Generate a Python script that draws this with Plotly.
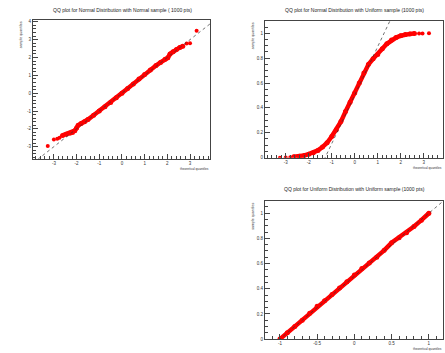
import plotly.graph_objects as go

W, H = 445, 353

# ---------------- data ----------------
# Panel 1: Normal distribution vs normal sample
nn_core_x = [-2.62, -2.45, -2.3, -2.18, -2.08, -2.0, -1.93, -1.8, -1.65, -1.5, -1.25, -1.0, -0.75, -0.5, -0.25, 0.0,
             0.25, 0.5, 0.75, 1.0, 1.25, 1.5, 1.7, 1.9, 2.02, 2.12, 2.25, 2.4, 2.55, 2.68]
nn_core_y = [-2.37, -2.3, -2.25, -2.2, -2.1, -1.95, -1.8, -1.7, -1.6, -1.48, -1.24, -1.0, -0.76, -0.52, -0.26, 0.0,
             0.26, 0.52, 0.79, 1.05, 1.3, 1.55, 1.72, 1.9, 1.98, 2.2, 2.32, 2.45, 2.56, 2.63]
nn_tail_x = [-3.27, -3.0, -2.85, -2.75, 2.85, 3.0, 3.29]
nn_tail_y = [-2.96, -2.6, -2.55, -2.5, 2.78, 2.8, 3.5]

# Panel 2: Normal distribution vs uniform sample
nu_core_x = [-2.65, -2.4, -2.2, -2.0, -1.8, -1.6, -1.4, -1.2, -1.0, -0.8, -0.6, -0.4, -0.2, 0.0,
             0.2, 0.4, 0.6, 0.8, 1.0, 1.2, 1.4, 1.6, 1.8, 2.0, 2.2, 2.4, 2.6]
nu_core_y = [0.008, 0.012, 0.018, 0.028, 0.04, 0.058, 0.085, 0.12, 0.17, 0.225, 0.29, 0.37, 0.445, 0.52,
             0.6, 0.68, 0.75, 0.795, 0.83, 0.875, 0.915, 0.945, 0.965, 0.98, 0.99, 0.995, 0.998]
nu_tail_x = [-3.25, -3.0, -2.8, 2.8, 2.95, 3.23]
nu_tail_y = [0.0, 0.001, 0.003, 0.999, 0.999, 1.0]

# Panel 3: Uniform distribution vs uniform sample
uu_x = [-1.0, -0.9, -0.8, -0.7, -0.6, -0.5, -0.4, -0.3, -0.2, -0.1, 0.0, 0.1, 0.2, 0.3, 0.4, 0.5,
        0.6, 0.7, 0.8, 0.9, 1.0]
uu_y = [0.0, 0.05, 0.1, 0.15, 0.205, 0.26, 0.305, 0.355, 0.405, 0.455, 0.51, 0.56, 0.605, 0.65, 0.705, 0.765,
        0.805, 0.845, 0.895, 0.945, 1.0]

# reference lines (slope, intercept)
ref_lines = {"x": (1.0, 0.0), "x2": (0.39, 0.502), "x3": (0.5, 0.5)}

titles = ["QQ plot for Normal Distribution with Normal sample ( 1000 pts)",
          "QQ plot for Normal Distribution with Uniform sample (1000 pts)",
          "QQ plot for Uniform Distribution with Uniform sample (1000 pts)"]
xtitle = "theoretical quantiles"
ytitle = "sample quantiles"

# ---------------- layout geometry (pixels) ----------------
frames = {  # left, right, top, bottom in px
    "1": (33, 210, 20, 160),
    "2": (265, 443, 21, 159),
    "3": (265, 443, 203, 342),
}
ranges = {
    "1": ([-3.92, 3.88], [-3.67, 4.11]),
    "2": ([-3.9, 3.84], [0, 1.1]),
    "3": ([-1.2, 1.19], [0, 1.095]),
}

RED = "#ff0000"
fig = go.Figure()

def add_panel(k, core_x, core_y, tail_x, tail_y):
    xa = "x" if k == "1" else "x" + k
    ya = "y" if k == "1" else "y" + k
    slope, icpt = ref_lines[xa]
    xr = ranges[k][0]
    lx = [xr[0], xr[1]]
    ly = [slope * v + icpt for v in lx]
    fig.add_trace(go.Scatter(x=core_x, y=core_y, mode="lines+markers",
                             line=dict(color=RED, width=4.5),
                             marker=dict(color=RED, size=5),
                             xaxis=xa, yaxis=ya, showlegend=False, cliponaxis=True))
    if tail_x:
        fig.add_trace(go.Scatter(x=tail_x, y=tail_y, mode="markers",
                                 marker=dict(color=RED, size=4),
                                 xaxis=xa, yaxis=ya, showlegend=False))
    fig.add_trace(go.Scatter(x=lx, y=ly, mode="lines",
                             line=dict(color="#333333", width=0.7, dash="dot"),
                             xaxis=xa, yaxis=ya, showlegend=False))

add_panel("1", nn_core_x, nn_core_y, nn_tail_x, nn_tail_y)
add_panel("2", nu_core_x, nu_core_y, nu_tail_x, nu_tail_y)
add_panel("3", uu_x, uu_y, [], [])

axis_common = dict(showgrid=False, zeroline=False, showline=True, mirror=True,
                   linecolor="#444444", linewidth=1, ticks="inside", ticklen=5,
                   tickcolor="#444444", tickwidth=0.8,
                   tickfont=dict(family="Liberation Sans", size=4.5, color="#333333"))

dt = {"1": (1, 0.2, 1, 0.2), "2": (1, 0.2, 0.2, 0.05), "3": (0.5, 0.1, 0.2, 0.05)}
ticklabels = {
    "1": ([-3, -2, -1, 0, 1, 2, 3], [-3, -2, -1, 0, 1, 2, 3, 4]),
    "2": ([-3, -2, -1, 0, 1, 2, 3], [0, 0.2, 0.4, 0.6, 0.8, 1]),
    "3": ([-1, -0.5, 0, 0.5, 1], [0, 0.2, 0.4, 0.6, 0.8, 1]),
}

lay = {}
for k, (l, r, t, b) in frames.items():
    sfx = "" if k == "1" else k
    xd = [l / W, r / W]
    yd = [1 - b / H, 1 - t / H]
    xt, yt = ticklabels[k]
    lay["xaxis" + sfx] = dict(axis_common, domain=xd, range=ranges[k][0], anchor="y" + sfx,
                              tickmode="array", tickvals=xt, ticktext=[f"{v:g}" for v in xt],
                              minor=dict(dtick=dt[k][1], tick0=0, ticks="inside", ticklen=3,
                                         tickcolor="#444444"))
    lay["yaxis" + sfx] = dict(axis_common, domain=yd, range=ranges[k][1], anchor="x" + sfx,
                              tickmode="array", tickvals=yt, ticktext=[f"{v:g}" for v in yt],
                              minor=dict(dtick=dt[k][3], tick0=0, ticks="inside", ticklen=3,
                                         tickcolor="#444444"))

annotations = []
title_font = dict(family="Liberation Sans", size=5, color="#222222")
xt_font = dict(family="Liberation Sans", size=3.2, color="#333333")
yt_font = dict(family="Liberation Sans", size=3.6, color="#333333")
title_pos = {"1": (122, 10), "2": (354, 10), "3": (354, 191)}
for i, k in enumerate(["1", "2", "3"]):
    l, r, t, b = frames[k]
    tx, ty = title_pos[k]
    annotations.append(dict(text=titles[i], x=tx / W, y=1 - ty / H, xref="paper", yref="paper",
                            xanchor="center", yanchor="middle", showarrow=False, font=title_font))
    annotations.append(dict(text=xtitle, x=(r + 1) / W, y=1 - (b + 10) / H, xref="paper", yref="paper",
                            xanchor="right", yanchor="middle", showarrow=False, font=xt_font))
    annotations.append(dict(text=ytitle, x=(l - 12) / W, y=1 - t / H, xref="paper", yref="paper",
                            xanchor="center", yanchor="top", textangle=-90, showarrow=False,
                            font=yt_font))

fig.update_layout(width=W, height=H, margin=dict(l=0, r=0, t=0, b=0),
                  paper_bgcolor="white", plot_bgcolor="white",
                  annotations=annotations, **lay)

fig.write_html("out.html")
